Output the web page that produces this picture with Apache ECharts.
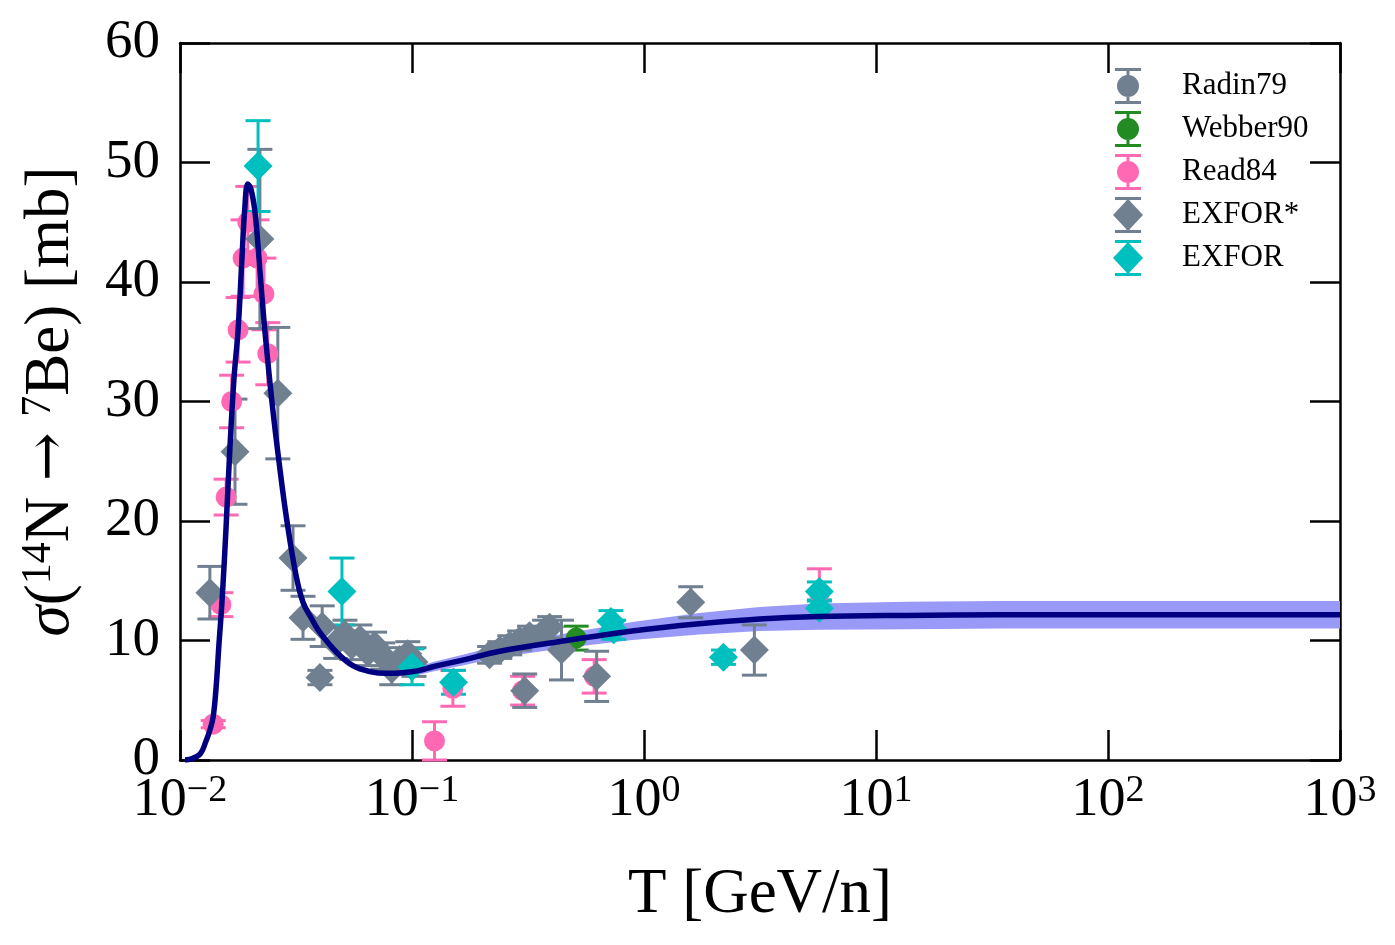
<!DOCTYPE html>
<html>
<head>
<meta charset="utf-8">
<script src="https://cdn.jsdelivr.net/npm/echarts@6/dist/echarts.min.js"></script>
<style>
  html, body { margin: 0; padding: 0; background: #fff; }
  #main { width: 1395px; height: 945px; }
</style>
</head>
<body>
<div id="main"></div>
<script>
// model curve
var curveT = [0.0105, 0.011, 0.0122, 0.0129, 0.0135, 0.0139, 0.0143, 0.0147, 0.0152, 0.0158, 0.0164, 0.0171, 0.0178, 0.0185, 0.0190, 0.0196, 0.0202, 0.0210, 0.0217, 0.0223, 0.0232, 0.0249, 0.0267, 0.0289, 0.0316, 0.0339, 0.037, 0.040, 0.0474, 0.0556, 0.0658, 0.078, 0.091, 0.108, 0.123, 0.169, 0.239, 0.464, 0.89, 1.73, 3.15, 5.65, 13.6, 34, 100, 300, 1000]
var curveV = [0, 0.05, 0.5, 1.5, 2.6, 3.6, 6.0, 9.5, 13.5, 19.5, 26, 32, 36, 42, 46, 48.2, 47.8, 46.0, 43.0, 40.0, 36.0, 30, 25, 20, 15.5, 13.2, 11.8, 10.7, 9.0, 7.9, 7.4, 7.25, 7.3, 7.5, 7.8, 8.4, 9.1, 10.0, 10.8, 11.4, 11.8, 12.0, 12.1, 12.15, 12.15, 12.15, 12.15]
var bandHalf = [0.15, 0.15, 0.15, 0.15, 0.15, 0.15, 0.15, 0.15, 0.15, 0.15, 0.15, 0.15, 0.15, 0.15, 0.15, 0.15, 0.15, 0.15, 0.15, 0.15, 0.15, 0.15, 0.15, 0.15, 0.15, 0.15, 0.15, 0.15, 0.15, 0.2, 0.2, 0.25, 0.3, 0.35, 0.4, 0.45, 0.5, 0.6, 0.75, 0.9, 1.0, 1.1, 1.15, 1.15, 1.15, 1.15, 1.15]

// data sets: energy, value, error
var radinT = []
var radinV = []
var radinE = []

var webberT = [0.51]
var webberV = [10.2]
var webberE = [1.0]

var readT = [0.0139, 0.0150, 0.0158, 0.0167, 0.0178, 0.0187, 0.0196, 0.0215, 0.0230, 0.0239, 0.125, 0.150, 0.300, 0.61, 5.7]
var readV = [3.0, 13.0, 22.0, 30.0, 36.0, 42.0, 45.0, 42.0, 39.0, 34.0, 1.6, 6.0, 5.8, 7.0, 14.0]
var readE = [0.3, 1.0, 1.5, 2.2, 2.7, 3.2, 3.0, 3.2, 3.0, 2.6, 1.6, 1.5, 1.2, 1.4, 2.0]

var exforStarT = [0.01345, 0.01726, 0.0221, 0.0264, 0.0307, 0.0339, 0.0401, 0.0410, 0.0469, 0.0514, 0.0550, 0.0596, 0.0646, 0.0690, 0.0748, 0.0818, 0.0886, 0.0959, 0.102, 0.216, 0.239, 0.264, 0.291, 0.321, 0.373, 0.392, 0.441, 0.306, 0.625, 1.59, 2.99]
var exforStarV = [14.0, 25.8, 43.6, 30.7, 16.9, 11.9, 6.9, 11.2, 9.8, 10.5, 9.6, 10.1, 9.0, 9.6, 8.7, 7.6, 8.4, 8.9, 8.2, 8.8, 9.2, 9.6, 10.0, 10.4, 10.8, 11.1, 9.2, 5.8, 7.0, 13.2, 9.2]
var exforStarE = [2.2, 4.4, 7.5, 5.5, 2.7, 1.8, 0.6, 1.7, 1.3, 1.2, 1.2, 1.2, 1.1, 1.1, 1.1, 1.3, 1.0, 1.0, 1.2, 0.7, 0.7, 0.8, 0.8, 0.8, 0.9, 0.9, 2.5, 1.4, 2.1, 1.3, 2.1]

var exforT = [0.0217, 0.0499, 0.100, 0.151, 0.72, 0.74, 2.2, 5.7, 5.7]
var exforV = [49.7, 14.1, 7.8, 6.5, 11.6, 10.9, 8.6, 14.1, 12.7]
var exforE = [3.8, 2.8, 1.5, 1.0, 0.9, 0.8, 0.6, 0.8, 0.7]

var yTicks = [0, 10, 20, 30, 40, 50, 60]

var FONT = '"Liberation Serif", "DejaVu Serif", serif'
var SLATE = '#708090'
var GREEN = '#228b22'
var PINK = '#ff69b4'
var CYAN = '#00bfbf'
var NAVY = '#000080'

var circleIcon = 'path://M0,0H26V3H0Z M0,33H26V36H0Z M11.5,3H14.5V33H11.5Z M2,18A11,11 0 1,1 24,18A11,11 0 1,1 2,18Z'
var diamondIcon = 'path://M2,0H28V3H2Z M2,33H28V36H2Z M13.5,3H16.5V33H13.5Z M15,2L30,18L15,34L0,18Z'

function zip3(a, b, c) {
  return a.map(function (t, i) { return [t, b[i], c[i]] })
}

// error bar series, drawn through the axes
function errSeries(name, T, V, E, color) {
  return {
    type: 'custom',
    name: name,
    data: zip3(T, V, E),
    encode: { x: 0, y: 1 },
    z: 2,
    renderItem: function (params, api) {
      var x = api.value(0), y = api.value(1), e = api.value(2)
      var top = api.coord([x, y + e])
      var bot = api.coord([x, y - e])
      var st = { stroke: color, lineWidth: 3 }
      return {
        type: 'group',
        children: [
          { type: 'line', shape: { x1: top[0], y1: top[1], x2: bot[0], y2: bot[1] }, style: st },
          { type: 'line', shape: { x1: top[0] - 12.5, y1: top[1], x2: top[0] + 12.5, y2: top[1] }, style: st },
          { type: 'line', shape: { x1: bot[0] - 12.5, y1: bot[1], x2: bot[0] + 12.5, y2: bot[1] }, style: st }
        ]
      }
    }
  }
}

function markSeries(name, T, V, color, symbol) {
  return {
    type: 'scatter',
    name: name,
    data: T.map(function (t, i) { return [t, V[i]] }),
    symbol: symbol,
    symbolSize: symbol === 'circle' ? 21 : 29,
    itemStyle: { color: color, opacity: 1 },
    z: 2
  }
}

var bandData = curveT.map(function (t, i) { return [t, curveV[i], bandHalf[i]] })

var myChart = echarts.init(document.getElementById('main'))

var supRich = {
  b: { fontFamily: FONT, fontSize: 54, lineHeight: 58, color: '#000' },
  s: { fontFamily: FONT, fontSize: 38, lineHeight: 26, verticalAlign: 'top', color: '#000' }
}

var option = {
  animation: false,
  backgroundColor: '#fff',
  grid: { left: 180, right: 55, top: 43, bottom: 185 },
  legend: {
    orient: 'vertical',
    left: 1108,
    top: 63,
    itemWidth: 30,
    itemHeight: 36,
    itemGap: 7,
    selectedMode: false,
    textStyle: { fontFamily: FONT, fontSize: 31, color: '#000', padding: [0, 0, 0, 34] },
    data: [
      { name: 'Radin79', icon: circleIcon, itemStyle: { color: SLATE } },
      { name: 'Webber90', icon: circleIcon, itemStyle: { color: GREEN } },
      { name: 'Read84', icon: circleIcon, itemStyle: { color: PINK } },
      { name: 'EXFOR*', icon: diamondIcon, itemStyle: { color: SLATE } },
      { name: 'EXFOR', icon: diamondIcon, itemStyle: { color: CYAN } }
    ]
  },
  xAxis: [
    {
      type: 'log',
      logBase: 10,
      min: 0.01,
      max: 1000,
      name: 'T [GeV/n]',
      nameLocation: 'middle',
      nameGap: 104,
      nameTextStyle: { fontFamily: FONT, fontSize: 63, color: '#000' },
      axisLine: { onZero: false, lineStyle: { color: '#000', width: 2.5 } },
      axisTick: { inside: true, length: 30, lineStyle: { color: '#000', width: 2.5 } },
      splitLine: { show: false },
      axisLabel: {
        margin: 12,
        formatter: function (v) {
          var p = Math.round(Math.log10(v))
          return '{b|10}{s|' + (p < 0 ? '\u2212' + (-p) : p) + '}'
        },
        rich: supRich
      }
    },
    {
      type: 'log',
      logBase: 10,
      min: 0.01,
      max: 1000,
      position: 'top',
      axisLine: { onZero: false, lineStyle: { color: '#000', width: 2.5 } },
      axisTick: { inside: true, length: 30, lineStyle: { color: '#000', width: 2.5 } },
      axisLabel: { show: false },
      splitLine: { show: false }
    }
  ],
  yAxis: [
    {
      type: 'value',
      min: yTicks[0],
      max: yTicks[yTicks.length - 1],
      interval: 10,
      name: '{i|\u03c3}{n|(}{s|14}{n|N }{a|\u2192}{n| }{s|7}{n|Be) [mb]}',
      nameLocation: 'middle',
      nameRotate: 90,
      nameGap: 96,
      nameTextStyle: {
        rich: {
          i: { fontFamily: FONT, fontStyle: 'italic', fontSize: 63, lineHeight: 66, color: '#000' },
          n: { fontFamily: FONT, fontSize: 63, lineHeight: 66, color: '#000' },
          a: { fontFamily: '"DejaVu Serif", serif', fontSize: 58, lineHeight: 66, color: '#000' },
          s: { fontFamily: FONT, fontSize: 42, lineHeight: 30, verticalAlign: 'top', color: '#000' }
        }
      },
      axisLine: { lineStyle: { color: '#000', width: 2.5 } },
      axisTick: { inside: true, length: 30, lineStyle: { color: '#000', width: 2.5 } },
      splitLine: { show: false },
      axisLabel: { margin: 20, fontFamily: FONT, fontSize: 55, color: '#000' }
    },
    {
      type: 'value',
      min: yTicks[0],
      max: yTicks[yTicks.length - 1],
      interval: 10,
      position: 'right',
      axisLine: { lineStyle: { color: '#000', width: 2.5 } },
      axisTick: { inside: true, length: 30, lineStyle: { color: '#000', width: 2.5 } },
      axisLabel: { show: false },
      splitLine: { show: false }
    }
  ],
  series: [
    // uncertainty band: one polygon through the axes
    {
      type: 'custom',
      name: 'band',
      data: bandData,
      encode: { x: 0, y: 1 },
      z: 1,
      silent: true,
      renderItem: function (params, api) {
        if (params.dataIndex !== 0) return null
        var up = [], lo = []
        for (var i = 0; i < curveT.length; i++) {
          up.push(api.coord([curveT[i], curveV[i] + bandHalf[i]]))
          lo.push(api.coord([curveT[i], curveV[i] - bandHalf[i]]))
        }
        return {
          type: 'polygon',
          shape: { points: up.concat(lo.reverse()), smooth: 0 },
          style: { fill: '#9999f8' }
        }
      }
    },
    markSeries('Radin79', radinT, radinV, SLATE, 'circle'),
    errSeries('Webber90', webberT, webberV, webberE, GREEN),
    markSeries('Webber90', webberT, webberV, GREEN, 'circle'),
    errSeries('Read84', readT, readV, readE, PINK),
    markSeries('Read84', readT, readV, PINK, 'circle'),
    errSeries('EXFOR*', exforStarT, exforStarV, exforStarE, SLATE),
    markSeries('EXFOR*', exforStarT, exforStarV, SLATE, 'diamond'),
    errSeries('EXFOR', exforT, exforV, exforE, CYAN),
    markSeries('EXFOR', exforT, exforV, CYAN, 'diamond'),
    // model curve
    {
      type: 'line', name: 'model',
      data: curveT.map(function (t, i) { return [t, curveV[i]] }),
      smooth: 0.4, symbol: 'none',
      lineStyle: { color: NAVY, width: 5.5 }, z: 5, silent: true
    }
  ]
}

myChart.setOption(option)
</script>
</body>
</html>
